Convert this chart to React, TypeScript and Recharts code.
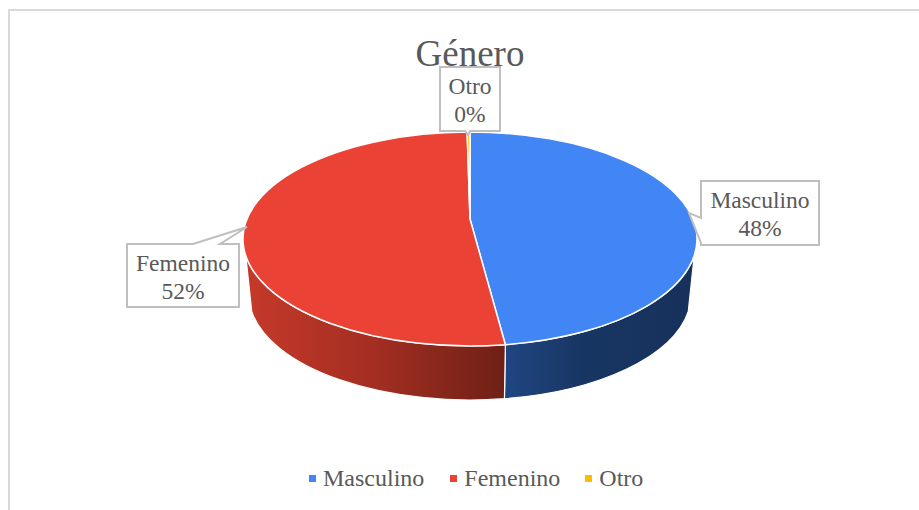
import { PieChart, Pie, Legend } from 'recharts';

const categories = ['Masculino', 'Femenino', 'Otro'];
const shares = [47.51, 52.29, 0.2];
const faceColors = ['#4285f4', '#ea4335', '#fbbc04'];
const wallFills = ['url(#wallBlue)', 'url(#wallRed)', '#a87d03'];

const topFace = categories.map((name, i) => ({ name, value: shares[i], fill: faceColors[i] }));
const sideWall = categories.map((name, i) => ({ name, value: shares[i], fill: wallFills[i] }));

// pie geometry, the 3d tilt squashes the radius vertically
const CX = 470;
const CY = 239;
const RX = 227;
const RY = 107;
// lower rim of the wall, a bit smaller because of the perspective
const RIM_CY = 295;
const RIM_RX = 221;
const RIM_RY = 105;
const WALL_EDGE = 9;
const APEX_LIFT = 20;
const TEXT = '#595959';
const SERIF = '"Liberation Serif", "Times New Roman", serif';

const rad = Math.PI / 180;
const px = (a: number) => CX + RX * Math.cos(a * rad);
const py = (a: number) => CY - RY * Math.sin(a * rad);
const rimX = (a: number) => CX + RIM_RX * Math.cos(a * rad);
const rimY = (a: number) => RIM_CY - RIM_RY * Math.sin(a * rad);

function FaceShape(props: any) {
  const { startAngle, endAngle, fill } = props;
  const large = Math.abs(endAngle - startAngle) > 180 ? 1 : 0;
  const d = `M${CX},${CY - APEX_LIFT} L${px(startAngle)},${py(startAngle)} A${RX},${RY} 0 ${large} 1 ${px(endAngle)},${py(endAngle)} Z`;
  return <path d={d} fill={fill} stroke="#fff" strokeWidth={1.5} strokeLinejoin="round" />;
}

function WallShape(props: any) {
  const { startAngle, endAngle, fill } = props;
  // only the front of the pie shows a wall
  const from = Math.max(Math.min(startAngle, endAngle), -180 + WALL_EDGE);
  const to = Math.min(Math.max(startAngle, endAngle), -WALL_EDGE);
  if (to <= from) return null;
  const d = `M${px(from)},${py(from)} A${RX},${RY} 0 0 0 ${px(to)},${py(to)} L${rimX(to)},${rimY(to)} A${RIM_RX},${RIM_RY} 0 0 1 ${rimX(from)},${rimY(from)} Z`;
  return <path d={d} fill={fill} stroke="#fff" strokeWidth={1.2} />;
}

const callouts: Record<string, { box: number[]; tip: number[]; base: number[] }> = {
  Masculino: { box: [701, 181, 819, 245], tip: [689, 213], base: [701, 218, 701, 243] },
  Femenino: { box: [127, 244, 239, 307], tip: [247, 227], base: [193, 244, 220, 244] },
  Otro: { box: [440, 67, 500, 131], tip: [468, 135], base: [465, 131, 470, 131] },
};

function Callout(props: any) {
  const { name, percent } = props;
  const c = callouts[name];
  if (!c) return null;
  const [l, t, r, b] = c.box;
  const [bx1, by1, bx2, by2] = c.base;
  const [tx, ty] = c.tip;
  let d = `M${l},${t} H${bx1} L${tx},${ty} L${bx2},${by2} H${r} V${b} H${l} Z`;
  if (name === 'Masculino') d = `M${l},${t} H${r} V${b} H${l} V${by2} L${tx},${ty} L${bx1},${by1} Z`;
  if (name === 'Otro') d = `M${l},${t} H${r} V${b} H${bx2} L${tx},${ty} L${bx1},${by1} H${l} Z`;
  const mid = (l + r) / 2;
  return (
    <g>
      <path d={d} fill="#fff" stroke="#bfbfbf" strokeWidth={2} />
      <text x={mid} y={t + 27} textAnchor="middle" fontFamily={SERIF} fontSize={23.5} fill={TEXT}>{name}</text>
      <text x={mid} y={t + 55} textAnchor="middle" fontFamily={SERIF} fontSize={23.5} fill={TEXT}>{`${Math.round(percent * 100)}%`}</text>
    </g>
  );
}

function LegendRow(props: any) {
  const gaps = [26, 25, 0];
  // the wall pie also lands in the payload, keep one entry for each category
  const items = categories.map((name) => (props.payload || []).find((p: any) => p.value === name && faceColors.includes(p.color))).filter(Boolean);
  return (
    <div style={{ display: 'flex', alignItems: 'center', fontFamily: SERIF, fontSize: 24, color: TEXT, lineHeight: '28px' }}>
      {items.map((p: any, i: number) => (
        <span key={p.value} style={{ display: 'flex', alignItems: 'center', marginRight: gaps[i] }}>
          <span style={{ width: 7, height: 7, background: p.color, marginRight: 7, display: 'inline-block' }} />
          {p.value}
        </span>
      ))}
    </div>
  );
}

export default function App() {
  return (
    <div style={{ position: 'absolute', left: 0, top: 0, width: 919, height: 510, background: '#fff', overflow: 'hidden' }}>
      <div style={{ position: 'absolute', left: 8, top: 9, width: 1000, height: 600, borderTop: '2px solid #d9d9d9', borderLeft: '2px solid #d9d9d9' }} />
      <div style={{ position: 'absolute', left: 0, top: 0 }}>
        <PieChart width={919} height={510} margin={{ top: 0, right: 0, bottom: 0, left: 0 }}>
          <defs>
            <linearGradient id="wallBlue" x1="0" y1="0" x2="1" y2="0">
              <stop offset="0%" stopColor="#1f4682" />
              <stop offset="40%" stopColor="#183663" />
              <stop offset="100%" stopColor="#16315b" />
            </linearGradient>
            <linearGradient id="wallRed" x1="0" y1="0" x2="1" y2="0">
              <stop offset="0%" stopColor="#c5392a" />
              <stop offset="50%" stopColor="#a32e22" />
              <stop offset="100%" stopColor="#6e2015" />
            </linearGradient>
          </defs>
          <text x={470} y={66} textAnchor="middle" fontFamily={SERIF} fontSize={37} fill={TEXT}>Género</text>
          <Pie
            data={sideWall}
            dataKey="value"
            nameKey="name"
            cx={CX}
            cy={CY}
            outerRadius={RX}
            startAngle={90}
            endAngle={-270}
            stroke="none"
            legendType="none"
            shape={WallShape}
            isAnimationActive={false}
          />
          <Pie
            data={topFace}
            dataKey="value"
            nameKey="name"
            cx={CX}
            cy={CY}
            outerRadius={RX}
            startAngle={90}
            endAngle={-270}
            shape={FaceShape}
            label={Callout}
            labelLine={false}
            isAnimationActive={false}
          />
          <Legend
            content={LegendRow}
            verticalAlign="bottom"
            wrapperStyle={{ position: 'absolute', left: 309, top: 464, width: 400, bottom: 'auto' }}
          />
        </PieChart>
      </div>
    </div>
  );
}
